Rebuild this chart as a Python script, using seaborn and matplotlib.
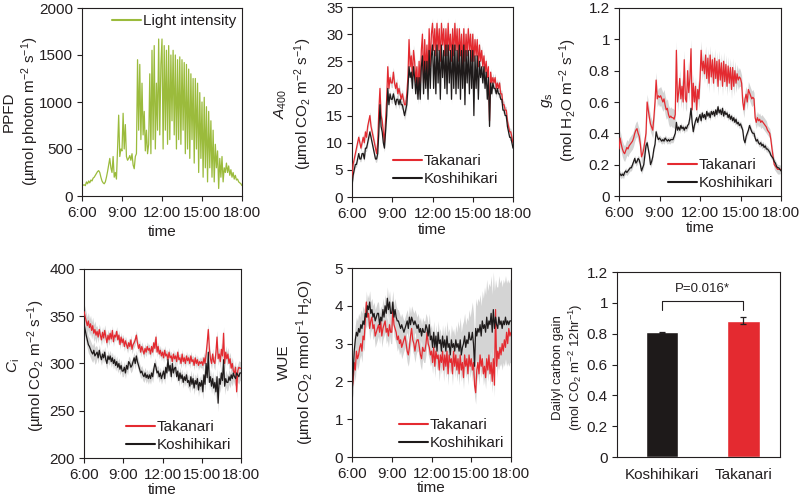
import numpy as np
import pandas as pd
import matplotlib
matplotlib.use("Agg")
import matplotlib.pyplot as plt
import seaborn as sns

sns.set_theme(style="ticks")
plt.rcParams['font.family'] = ['Liberation Sans', 'DejaVu Sans']
plt.rcParams['mathtext.fontset'] = 'custom'
plt.rcParams['mathtext.rm'] = 'Liberation Sans'
plt.rcParams['mathtext.it'] = 'Liberation Sans:italic'
plt.rcParams['mathtext.bf'] = 'Liberation Sans:bold'
TXT = '#231f20'
for k in ['text.color', 'axes.labelcolor', 'xtick.color', 'ytick.color']:
    plt.rcParams[k] = TXT

# ---------------- data ----------------
time_tick_vals = [6, 9, 12, 15, 18]
time_tick_labels = ["6:00", "9:00", "12:00", "15:00", "18:00"]
hours = np.arange(360, 1081, 5) / 60.0   # sampling times, 5-min steps

ppfd = [110,115,120,110,150,130,160,140,170,160,190,200,
        220,240,260,270,250,200,160,140,130,150,200,260,
        330,400,300,250,420,200,250,180,500,860,420,500,
        480,880,500,760,420,380,400,430,380,450,330,290,
        420,450,1450,700,1400,600,1200,650,900,480,700,450,
        550,1300,450,1550,600,1600,500,1200,700,1670,650,1400,
        1670,500,1600,700,1550,550,1600,600,1500,800,1550,650,
        1500,500,1450,600,1480,550,1450,700,1420,450,1400,500,
        1350,400,1300,600,1250,350,1250,500,1200,250,1100,400,
        1000,200,1050,300,950,150,900,300,800,200,700,150,
        550,300,480,80,400,200,420,150,300,250,350,250,
        320,220,280,200,250,180,220,170,180,150,140,130,
        110]

a400_tak = [3,6,7,8,9,10,11,10,9,10,11,10,
            12,11,13,14,15,13,12,11,10,9,8,10,
            16,20,15,14,12,10,14,18,24,20,22,21,
            21,23,21,20,21,19,20,19,18,19,18,17,
            17,19,22,29,24,26,22,27,25,21,24,19,
            25,20,27,30,21,29,23,28,22,31,24,30,
            32,27,31,26,32,27,31,25,32,28,31,26,
            31,26,32,27,30,25,31,26,32,27,31,25,
            31,26,30,24,31,25,30,26,31,27,30,25,
            30,25,29,26,29,24,28,25,27,24,26,23,
            25,22,24,14,23,21,22,21,22,20,21,20,
            21,19,19,17,17,16,16,14,13,12,12,11,
            10]
a400_kos = [2,4,5,6,6,7,8,7,7,8,8,7,
            9,9,10,11,12,11,10,9,8,7,7,8,
            12,17,13,12,10,9,12,15,20,17,19,18,
            18,19,18,17,18,18,17,18,17,17,16,15,
            16,17,20,24,22,23,20,24,22,19,22,18,
            22,18,24,26,19,25,20,25,18,27,20,26,
            28,20,27,19,28,21,27,18,28,22,27,20,
            28,19,28,21,27,18,28,20,28,19,27,20,
            28,18,27,20,28,17,27,21,27,19,27,20,
            27,15,26,20,26,18,25,22,24,21,24,20,
            23,18,22,13,21,19,21,20,20,19,20,19,
            19,18,18,16,16,15,15,13,12,11,11,10,
            9]
a400_tak_se = [0.6,0.7,0.8,0.9,1.0,1.0,1.0,1.0,1.0,0.9,0.8,0.7,0.6]
a400_kos_se = [0.5,0.6,0.7,0.8,0.9,0.9,0.9,0.9,0.9,0.8,0.7,0.6,0.5]

gs_tak = [.30,.37,.33,.30,.28,.27,.29,.31,.30,.32,.33,.34,
          .35,.37,.40,.42,.43,.40,.38,.33,.25,.27,.30,.35,
          .40,.60,.55,.50,.46,.44,.42,.50,.60,.74,.62,.64,
          .63,.64,.62,.60,.62,.58,.55,.56,.52,.50,.51,.50,
          .50,.49,.52,.93,.60,.66,.75,.62,.70,.60,.87,.62,
          .60,.80,.66,.75,.94,.55,.72,.60,.70,.55,.68,.62,
          .75,.93,.80,.86,.78,.90,.75,.88,.72,.90,.76,.87,
          .72,.88,.75,.86,.70,.87,.74,.85,.70,.86,.73,.84,
          .70,.83,.72,.82,.68,.82,.70,.80,.72,.78,.74,.76,
          .75,.72,.60,.55,.62,.65,.60,.68,.66,.64,.62,.63,
          .62,.50,.47,.50,.48,.49,.47,.48,.47,.46,.45,.44,
          .42,.41,.40,.36,.30,.25,.20,.19,.18,.17,.17,.17,
          .17]
gs_kos = [.15,.14,.13,.14,.13,.15,.16,.15,.16,.17,.18,.18,
          .20,.22,.24,.21,.22,.24,.23,.20,.16,.18,.20,.26,
          .32,.34,.30,.26,.20,.22,.25,.30,.33,.41,.38,.36,
          .37,.36,.35,.36,.35,.37,.36,.35,.36,.35,.36,.36,
          .36,.38,.40,.47,.42,.44,.42,.45,.43,.44,.42,.44,
          .43,.45,.46,.50,.56,.47,.41,.45,.48,.50,.47,.50,
          .52,.48,.53,.50,.52,.49,.54,.51,.53,.50,.54,.52,
          .54,.51,.55,.52,.57,.53,.55,.52,.56,.51,.54,.52,
          .53,.50,.52,.49,.51,.48,.50,.47,.49,.46,.47,.45,
          .46,.44,.42,.36,.34,.38,.40,.42,.45,.43,.41,.40,
          .40,.37,.35,.36,.34,.33,.34,.32,.33,.31,.32,.30,
          .30,.29,.28,.26,.25,.24,.22,.21,.19,.18,.18,.17,
          .16]
gs_tak_se = [.05,.05,.05,.06,.06,.06,.06,.06,.06,.05,.04,.03,.02]
gs_kos_se = [.02,.02,.02,.02,.02,.02,.02,.02,.02,.02,.02,.02,.02]

ci_tak = [355,350,345,340,345,338,342,335,340,332,336,330,
          334,328,336,330,325,333,327,335,328,322,330,325,
          332,326,335,323,330,328,334,325,330,320,328,322,
          326,318,324,320,316,322,318,325,315,320,322,325,
          330,322,316,320,312,318,314,310,316,312,318,314,
          316,310,318,312,322,316,328,312,318,310,314,308,
          312,306,314,308,310,304,312,306,308,302,310,305,
          308,302,312,304,306,300,310,302,306,300,308,303,
          306,300,308,302,304,298,306,300,304,298,302,300,
          302,298,306,300,310,322,336,315,305,300,310,302,
          300,312,328,305,310,302,315,308,332,300,312,305,
          310,300,305,295,300,292,290,296,270,292,296,295,
          295]
ci_kos = [342,336,330,325,320,318,315,312,310,314,308,310,
          312,306,314,308,304,310,306,312,304,300,308,304,
          308,302,306,300,304,298,302,296,300,294,298,292,
          292,296,290,298,294,302,300,296,298,302,306,300,
          308,302,298,294,290,292,288,286,290,285,288,284,
          288,284,290,286,294,300,296,290,292,286,290,284,
          288,292,284,296,290,304,292,298,286,300,290,295,
          296,286,292,282,290,284,288,280,286,282,288,280,
          282,276,286,278,284,274,282,278,284,272,280,276,
          282,270,288,278,300,285,312,280,286,276,284,274,
          280,270,286,258,284,278,290,282,304,276,284,280,
          280,286,282,288,284,290,286,284,290,288,286,290,
          290]
ci_tak_se = [9,6,5,5,5,5,5,5,5,6,7,7,7]
ci_kos_se = [9,6,6,6,6,6,6,6,7,8,9,8,8]

wue_tak = [1.8,2.0,2.5,2.3,2.8,2.6,2.7,2.9,3.0,2.8,3.2,3.1,
           3.6,4.1,3.7,3.8,3.4,3.6,3.7,3.4,3.5,3.2,3.3,3.4,
           3.5,3.3,3.6,3.2,3.4,3.5,3.6,3.3,3.4,3.2,3.5,3.3,
           3.3,3.9,3.5,3.4,3.3,3.1,3.2,3.0,3.1,2.9,3.0,3.1,
           3.2,3.0,2.8,2.7,2.9,3.2,3.4,3.1,3.0,2.8,3.0,3.1,
           3.1,2.9,2.7,2.6,2.9,2.8,2.8,3.0,3.3,3.0,2.9,2.7,
           2.8,2.5,2.9,2.4,2.8,2.6,2.7,2.3,2.7,2.5,2.8,2.3,
           2.7,2.4,2.8,2.2,2.7,2.5,2.6,2.2,2.8,2.4,2.7,2.3,
           2.6,2.2,2.7,2.3,2.5,2.1,2.7,2.4,2.6,2.2,2.7,2.4,
           2.6,2.3,2.5,1.9,1.7,2.3,2.5,2.2,2.7,2.4,2.6,2.2,
           2.4,2.1,2.6,2.3,2.7,2.2,2.5,2.0,2.6,1.9,3.9,2.4,
           2.8,2.6,2.9,2.7,3.0,2.8,3.1,2.9,3.3,3.0,3.4,3.2,
           3.3]
wue_kos = [1.6,2.2,2.8,3.1,3.3,3.2,3.4,3.3,3.5,3.4,3.6,3.5,
           3.8,3.7,4.0,3.9,4.1,3.8,3.9,3.7,3.8,3.6,3.7,3.8,
           3.8,3.5,3.7,3.6,3.9,3.7,4.0,3.8,4.2,3.9,4.1,3.8,
           3.8,4.1,3.7,3.9,3.7,3.6,3.6,3.5,3.4,3.5,3.4,3.3,
           3.4,3.5,3.6,3.4,3.7,3.5,3.7,3.6,3.5,3.6,3.5,3.4,
           3.5,3.3,3.4,3.2,3.4,3.3,3.3,3.5,3.4,3.2,3.5,3.1,
           3.2,2.9,3.3,2.9,3.2,2.8,3.3,3.0,3.1,2.8,3.2,2.9,
           3.1,2.8,3.2,2.9,3.0,2.7,3.1,2.9,3.0,2.8,3.1,2.9,
           3.0,2.8,3.1,2.7,2.9,3.0,3.2,2.9,3.1,3.0,3.3,3.1,
           3.1,3.3,3.0,2.4,3.4,3.2,3.4,3.3,3.5,3.2,3.6,3.4,
           3.5,3.3,3.7,3.4,3.6,3.5,3.8,3.3,3.9,3.4,3.7,3.5,
           3.4,3.7,3.5,3.6,3.4,3.6,3.5,3.7,3.5,3.6,3.5,3.6,
           3.6]
wue_tak_se = [0.3,0.3,0.3,0.3,0.3,0.3,0.3,0.3,0.3,0.3,0.3,0.3,0.3]
wue_kos_se = [0.4,0.3,0.3,0.3,0.3,0.3,0.3,0.4,0.6,0.8,1.0,1.1,1.1]

cultivars = ["Koshihikari", "Takanari"]
carbon_gain = [0.808, 0.885]
carbon_gain_se = [0.004, 0.023]
p_text = "P=0.016*"

# ---------------- style ----------------
RED = '#e42a30'
BLACK = '#1e1a1a'
GREEN = '#9bbb3c'
GRAY = '#d4d4d4'
FS = 11

fig = plt.figure(figsize=(8.0, 4.98), dpi=100)
W, H = 800, 498

def add_ax(x0, y0, x1, y1):
    return fig.add_axes([x0 / W, 1 - y1 / H, (x1 - x0) / W, (y1 - y0) / H])

def expand(se):
    return np.repeat(np.asarray(se, float), 12)[:len(hours)]

def style(ax, yticks, ylim):
    for s in ax.spines.values():
        s.set_linewidth(0.8)
        s.set_color(TXT)
    ax.tick_params(direction='out', length=3.5, width=0.8, labelsize=FS, pad=3)
    ax.set_yticks(yticks)
    ax.set_yticklabels([f"{v:g}" for v in yticks])
    ax.set_ylim(*ylim)

def time_axis(ax):
    ax.set_xlim(6, 18)
    ax.set_xticks(time_tick_vals)
    ax.set_xticklabels(time_tick_labels)
    ax.tick_params(axis='x', pad=4)

def pair(ax, tak, kos, tak_se, kos_se):
    tak = np.asarray(tak, float); kos = np.asarray(kos, float)
    ts = expand(tak_se); ks = expand(kos_se)
    ax.fill_between(hours, tak - ts, tak + ts, color=GRAY, lw=0, zorder=1)
    ax.fill_between(hours, kos - ks, kos + ks, color=GRAY, lw=0, zorder=1)
    sns.lineplot(x=hours, y=tak, color=RED, lw=0.9, ax=ax, label="Takanari",
                 errorbar=None, zorder=3)
    sns.lineplot(x=hours, y=kos, color=BLACK, lw=0.9, ax=ax, label="Koshihikari",
                 errorbar=None, zorder=4)

def legend(ax, bx, by):
    leg = ax.legend(loc='center left', bbox_to_anchor=(bx, by), frameon=False,
                    fontsize=FS, handlelength=1.9, handletextpad=0.1,
                    borderpad=0, borderaxespad=0, labelspacing=0.25)
    for ln in leg.get_lines():
        ln.set_linewidth(1.5)
    return leg

def ylab(ax, text, x, y, fs=FS):
    ax.set_ylabel(text, fontsize=fs, linespacing=1.2)
    ax.yaxis.set_label_coords(x, y)

def xlab(ax, y):
    ax.set_xlabel("time", fontsize=FS)
    ax.xaxis.set_label_coords(0.5, y)

# Panel 1: PPFD
ax1 = add_ax(82, 8, 242, 196)
sns.lineplot(x=hours, y=ppfd, color=GREEN, lw=0.9, ax=ax1, label="Light intensity",
             errorbar=None)
style(ax1, [0, 500, 1000, 1500, 2000], (0, 2000))
time_axis(ax1)
legend(ax1, 0.19, 0.93)
ylab(ax1, "PPFD\n(µmol photon m$^{-2}$ s$^{-1}$)", -0.258, 0.45)
xlab(ax1, -0.155)

# Panel 2: A400
ax2 = add_ax(352, 7, 513, 197)
pair(ax2, a400_tak, a400_kos, a400_tak_se, a400_kos_se)
style(ax2, [0, 5, 10, 15, 20, 25, 30, 35], (0, 35))
time_axis(ax2)
legend(ax2, 0.255, 0.142)
ylab(ax2, "$A_{400}$\n(µmol CO$_2$ m$^{-2}$ s$^{-1}$)", -0.237, 0.49)
xlab(ax2, -0.137)

# Panel 3: gs
ax3 = add_ax(619, 8, 781, 196)
pair(ax3, gs_tak, gs_kos, gs_tak_se, gs_kos_se)
style(ax3, [0, 0.2, 0.4, 0.6, 0.8, 1.0, 1.2], (0, 1.2))
time_axis(ax3)
legend(ax3, 0.302, 0.117)
ylab(ax3, "$g_\\mathrm{s}$\n(mol H$_2$O m$^{-2}$ s$^{-1}$)", -0.245, 0.51)
xlab(ax3, -0.135)

# Panel 4: Ci
ax4 = add_ax(84, 269, 241, 458)
pair(ax4, ci_tak, ci_kos, ci_tak_se, ci_kos_se)
style(ax4, [200, 250, 300, 350, 400], (200, 400))
time_axis(ax4)
legend(ax4, 0.267, 0.116)
ylab(ax4, "$C_\\mathrm{i}$\n(µmol CO$_2$ m$^{-2}$ s$^{-1}$)", -0.235, 0.487)
xlab(ax4, -0.13)

# Panel 5: WUE
ax5 = add_ax(352, 268, 511, 457)
pair(ax5, wue_tak, wue_kos, wue_tak_se, wue_kos_se)
style(ax5, [0, 1, 2, 3, 4, 5], (0, 5))
time_axis(ax5)
legend(ax5, 0.296, 0.122)
ylab(ax5, "WUE\n(µmol CO$_2$ mmol$^{-1}$ H$_2$O)", -0.226, 0.50)
xlab(ax5, -0.128)

# Panel 6: bar chart
ax6 = add_ax(617, 272, 780, 457)
df = pd.DataFrame({"cultivar": cultivars, "gain": carbon_gain})
sns.barplot(data=df, x="cultivar", y="gain", hue="cultivar",
            palette=[BLACK, RED], width=0.4, ax=ax6, legend=False,
            errorbar=None, saturation=1)
ax6.errorbar(range(len(cultivars)), carbon_gain, yerr=carbon_gain_se, fmt='none',
             ecolor=TXT, elinewidth=0.9, capsize=2.2, capthick=0.9)
style(ax6, [0, 0.2, 0.4, 0.6, 0.8, 1.0, 1.2], (0, 1.2))
ax6.set_xlim(-0.55, 1.45)
ax6.set_xlabel("")
ax6.tick_params(axis='x', length=0, pad=8)
top = max(g + s for g, s in zip(carbon_gain, carbon_gain_se))
yb = top + 0.105
ax6.plot([0, 0, 1, 1], [yb - 0.06, yb, yb, yb - 0.06], color=TXT, lw=0.8)
ax6.text(0.5, yb + 0.035, p_text, ha='center', va='bottom', fontsize=9.5)
ylab(ax6, "Dailyl carbon gain\n(mol CO$_2$ m$^{-2}$ 12hr$^{-1}$)", -0.196, 0.486, fs=9.5)

fig.savefig("out.png", dpi=100)
